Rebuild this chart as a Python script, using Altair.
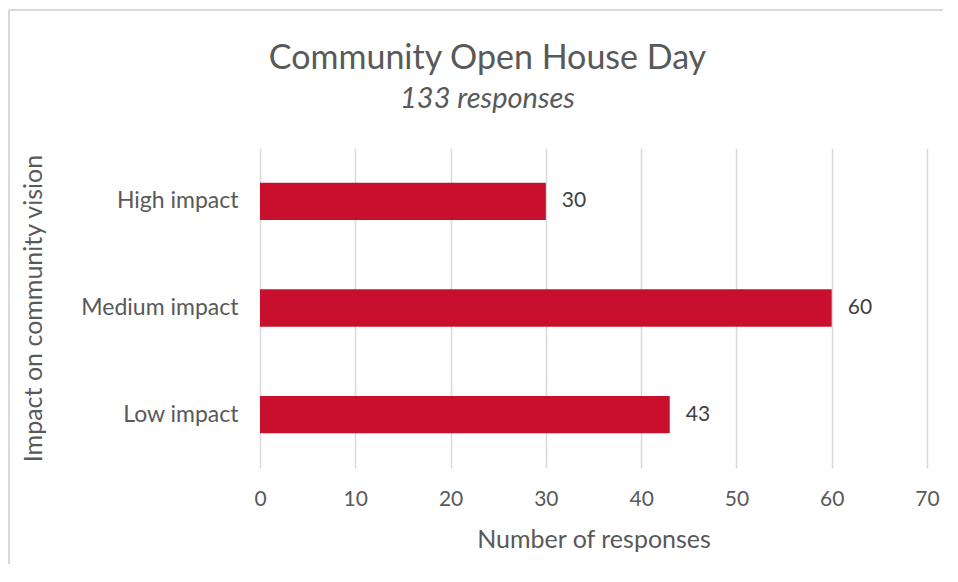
import altair as alt
import pandas as pd

categories = ["High impact", "Medium impact", "Low impact"]
responses = [30, 60, 43]
tick_values = [0, 10, 20, 30, 40, 50, 60, 70]

df = pd.DataFrame({"impact": categories, "responses": responses})

FONT = "Lato"
GREY = "#595959"

y_enc = alt.Y(
    "impact:N",
    sort=categories,
    scale=alt.Scale(paddingInner=0.65, paddingOuter=0.325),
    axis=alt.Axis(
        title="Impact on community vision",
        titleFont=FONT, titleFontSize=25, titleFontWeight="normal", titleColor=GREY,
        titleX=-227, titleY=160, titleAngle=-90, titleBaseline="middle", titleAlign="center",
        labelFont=FONT, labelFontSize=23, labelColor=GREY, labelPadding=22,
        domain=False, ticks=False, grid=False,
    ),
)
x_enc = alt.X(
    "responses:Q",
    scale=alt.Scale(domain=[0, 70], nice=False),
    axis=alt.Axis(
        values=tick_values,
        title="Number of responses",
        titleFont=FONT, titleFontSize=25, titleFontWeight="normal", titleColor=GREY,
        titleY=71, titleBaseline="middle",
        labelFont=FONT, labelFontSize=21, labelColor=GREY, labelFlush=False,
        labelBaseline="middle", labelPadding=31, tickSize=0,
        domain=False, ticks=False, grid=True, gridColor="#d9d9d9", gridWidth=1.5,
    ),
)

base = alt.Chart(df).encode(y=y_enc, x=x_enc)

bars = base.mark_bar(color="#C8102E")
labels = base.mark_text(align="left", baseline="middle", dx=16, font=FONT, fontSize=21, color="#404040").encode(
    text="responses:Q"
)

frame_left = alt.Chart(df).mark_rule(color="#d9d9d9", strokeWidth=1.5).encode(
    x=alt.value(-251), y=alt.value(-138), y2=alt.value(600)
)
frame_top = alt.Chart(df).mark_rule(color="#d9d9d9", strokeWidth=1.5).encode(
    x=alt.value(-251), x2=alt.value(760), y=alt.value(-138)
)

chart = alt.layer(frame_left, frame_top, bars, labels).properties(
    width=667,
    height=320,
    view=alt.ViewBackground(stroke="transparent", strokeWidth=0),
    autosize=alt.AutoSizeParams(type="none"),
    padding={"left": 252, "top": 140, "right": 16, "bottom": 96},
    title=alt.TitleParams(
        "Community Open House Day",
        subtitle="133 responses",
        font=FONT, fontSize=34, fontWeight="normal", color=GREY,
        subtitleFont=FONT, subtitleFontSize=29, subtitleFontStyle="italic", subtitleColor=GREY,
        subtitlePadding=9,
        anchor="middle", frame="group", dx=-106, offset=34, dy=139,
    ),
).configure_view(stroke="transparent", strokeWidth=0).configure(background="white")

chart.save("out.html", embed_options={"renderer": "svg", "actions": False})
